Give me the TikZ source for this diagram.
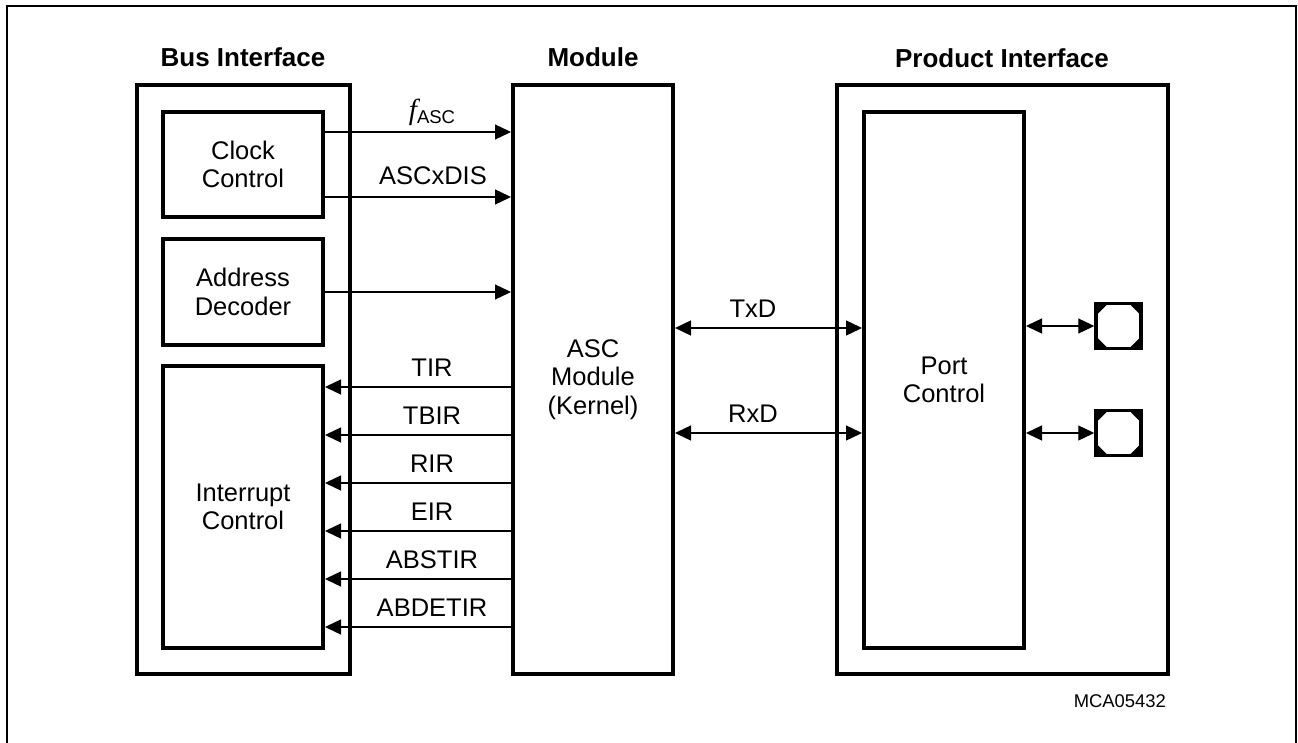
\documentclass[tikz,border=0pt]{standalone}
\usepackage{fontspec}
\setmainfont{Liberation Sans}
\newfontfamily\seriffont{Liberation Serif}
\usetikzlibrary{arrows.meta}
\begin{document}
\begin{tikzpicture}[x=1pt,y=-1pt,
  font=\fontsize{25.5}{28.5}\selectfont,
  box/.style={draw, line width=4pt, inner sep=0pt, align=center},
  title/.style={font=\fontsize{26}{28.5}\selectfont\bfseries, inner sep=0pt},
  lbl/.style={anchor=base, inner sep=0pt},
  tip/.tip={Triangle[length=16pt,width=15pt]},
  sig/.style={line width=1.3pt, -tip},
  bsig/.style={line width=1.3pt, tip-tip},
  pad/.style={draw, line width=3.5pt, minimum size=45pt, inner sep=0pt, outer sep=0pt}]
\useasboundingbox (0,0) rectangle (1298,743);
\draw[line width=2pt] (7,6) rectangle (1296,750);

% titles
\node[title] (tbus) at (243,57) {Bus Interface};
\node[title] (tmod) at (593,57) {Module};
\node[title] (tprod) at (1002,58) {Product Interface};

% boxes
\node[box, minimum width=213pt, minimum height=589pt] (bus) at (243.5,379.5) {};
\node[box, minimum width=160pt, minimum height=105pt] (clk) at (243,164.5) {Clock\\Control};
\node[box, minimum width=160pt, minimum height=106pt] (addr) at (243,292) {Address\\Decoder};
\node[box, minimum width=160pt, minimum height=282pt] (intr) at (243,507) {Interrupt\\Control};
\node[box, minimum width=160pt, minimum height=589pt] (mod) at (593,379.5) {ASC\\Module\\(Kernel)};
\node[box, minimum width=331pt, minimum height=589pt] (prod) at (1002.5,379.5) {};
\node[box, minimum width=160pt, minimum height=536pt] (port) at (944,380) {Port\\Control};

% pads
\node[pad] (pad1) at (1118.5,326) {};
\node[pad] (pad2) at (1118.5,433) {};
\foreach \p in {pad1,pad2} {
  \fill (\p.north west) -- ++(12,0) -- ++(-12,12) -- cycle;
  \fill (\p.north east) -- ++(-12,0) -- ++(12,12) -- cycle;
  \fill (\p.south west) -- ++(12,0) -- ++(-12,-12) -- cycle;
  \fill (\p.south east) -- ++(-12,0) -- ++(12,-12) -- cycle;
}

% clock / address signals
\coordinate (cF) at ([yshift=32.5pt]clk.east);
\coordinate (cD) at ([yshift=-32.5pt]clk.east);
\draw[sig] (cF) -- (cF -| mod.west);
\draw[sig] (cD) -- (cD -| mod.west);
\draw[sig] (addr.east) -- (addr.east -| mod.west);
\node[lbl] (lF) at (432,120) {{\seriffont\itshape\fontsize{29}{29}\selectfont f}\raisebox{-4pt}{\fontsize{18.5}{18.5}\selectfont ASC}};
\node[lbl] (lD) at (433,185) {ASCxDIS};

% interrupt signals
\foreach \y/\n in {387/TIR,435/TBIR,483/RIR,531/EIR,579/ABSTIR,627/ABDETIR} {
  \coordinate (y\n) at (0,\y);
  \draw[sig] (y\n -| mod.west) -- (y\n -| intr.east);
  \node[lbl] (l\n) at (432,\y-11) {\n};
}

% TxD / RxD
\coordinate (yT) at (0,328);
\coordinate (yR) at (0,433);
\draw[bsig] (yT -| mod.east) -- (yT -| port.west);
\draw[bsig] (yR -| mod.east) -- (yR -| port.west);
\node[lbl] (lT) at (753,317) {TxD};
\node[lbl] (lR) at (753,422) {RxD};

% pad connections
\draw[bsig, shorten >=1.75pt] (port.east |- pad1.west) -- (pad1.west);
\draw[bsig, shorten >=1.75pt] (port.east |- pad2.west) -- (pad2.west);

\node[anchor=east, inner sep=0pt, font=\fontsize{18.4}{20}\selectfont] (code) at (1166,701) {MCA05432};
\end{tikzpicture}
\end{document}
